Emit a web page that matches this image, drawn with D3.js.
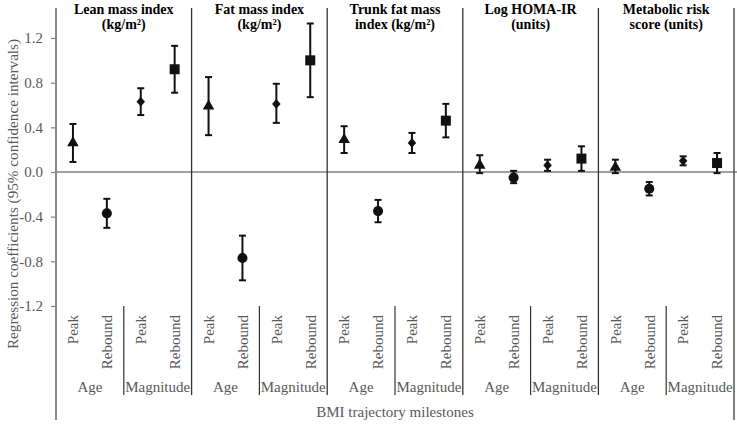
<!DOCTYPE html>
<html>
<head>
<meta charset="utf-8">
<script src="https://cdn.jsdelivr.net/npm/d3@7"></script>
<style>
  html, body { margin: 0; padding: 0; background: #fff; }
  svg { display: block; }
</style>
</head>
<body>
<svg id="chart" width="737" height="425"></svg>
<script>
// ---- Data ----
const panelTitles = [
  ["Lean mass index", "(kg/m²)"],
  ["Fat mass index", "(kg/m²)"],
  ["Trunk fat mass", "index (kg/m²)"],
  ["Log HOMA-IR", "(units)"],
  ["Metabolic risk", "score (units)"]
];
const milestones = ["Peak", "Rebound", "Peak", "Rebound"];
const groups = ["Age", "Magnitude"];
const shapes = ["triangle", "circle", "diamond", "square"];
// order per panel: Age-Peak, Age-Rebound, Magnitude-Peak, Magnitude-Rebound
const estimates = [
  [0.26, -0.37, 0.63, 0.92],
  [0.59, -0.77, 0.61, 1.00],
  [0.29, -0.35, 0.26, 0.46],
  [0.06, -0.05, 0.06, 0.12],
  [0.04, -0.15, 0.10, 0.08]
];
const lowerCI = [
  [0.09, -0.50, 0.51, 0.71],
  [0.33, -0.97, 0.44, 0.67],
  [0.17, -0.45, 0.17, 0.31],
  [-0.01, -0.10, 0.01, 0.01],
  [-0.01, -0.21, 0.06, -0.01]
];
const upperCI = [
  [0.43, -0.24, 0.75, 1.13],
  [0.85, -0.57, 0.79, 1.33],
  [0.41, -0.25, 0.35, 0.61],
  [0.15, 0.01, 0.11, 0.23],
  [0.11, -0.09, 0.14, 0.17]
];
const yTicks = [-1.2, -0.8, -0.4, 0.0, 0.4, 0.8, 1.2];
const yTitle = "Regression coefficients (95% confidence intervals)";
const xTitle = "BMI trajectory milestones";

// ---- Layout ----
const FONT = "'Liberation Serif', 'Times New Roman', serif";
const svg = d3.select("#chart");
const left = 56, right = 734;
const yTopLine = 8, yBottomLine = 420, catTop = 306, catBottom = 395;

const xPanel = d3.scaleBand().domain(d3.range(panelTitles.length)).range([left, right]).padding(0);
const xInner = d3.scaleBand().domain(d3.range(milestones.length)).range([0, xPanel.bandwidth()]).padding(0);
const xGroup = d3.scaleBand().domain(d3.range(groups.length)).range([0, xPanel.bandwidth()]).padding(0);
const y = d3.scaleLinear().domain([-1.2, 1.2]).range([306, 38]);

const symbolType = {
  triangle: d3.symbolTriangle,
  circle: d3.symbolCircle,
  diamond: d3.symbolDiamond2,
  square: d3.symbolSquare
};
const symbolSize = { triangle: 58, circle: 80, diamond: 46, square: 100 };

function txt(sel, size, fill, weight) {
  return sel.style("font-family", FONT).style("font-size", size + "px")
    .style("font-weight", weight || "normal").attr("fill", fill);
}

// zero line
svg.append("line")
  .attr("x1", left).attr("x2", 737)
  .attr("y1", y(0)).attr("y2", y(0))
  .attr("stroke", "#808080").attr("stroke-width", 1.5);

// y axis
const yAxis = d3.axisLeft(y).tickValues(yTicks).tickSize(5).tickPadding(8)
  .tickFormat(d => d.toFixed(1));
const gy = svg.append("g").attr("transform", `translate(${left},0)`).call(yAxis);
gy.select(".domain").remove();
gy.selectAll(".tick line").attr("stroke", "#808080").attr("stroke-width", 1.2);
txt(gy.selectAll(".tick text"), 15, "#595959");
svg.append("line")
  .attr("x1", left).attr("x2", left).attr("y1", yTopLine).attr("y2", yBottomLine)
  .attr("stroke", "#8a8a8a").attr("stroke-width", 2);

// right frame
svg.append("line")
  .attr("x1", right).attr("x2", right).attr("y1", yTopLine).attr("y2", yBottomLine)
  .attr("stroke", "#555").attr("stroke-width", 1.5);

// panel separators
d3.range(1, panelTitles.length).forEach(i => {
  svg.append("line")
    .attr("x1", xPanel(i)).attr("x2", xPanel(i))
    .attr("y1", yTopLine).attr("y2", catBottom)
    .attr("stroke", "#333").attr("stroke-width", 1.3);
});

// panels
panelTitles.forEach((title, p) => {
  const g = svg.append("g").attr("transform", `translate(${xPanel(p)},0)`);
  const cx = xPanel.bandwidth() / 2;
  txt(g.append("text").attr("x", cx).attr("y", 13.5).attr("text-anchor", "middle"), 14, "#000", "bold").text(title[0]);
  txt(g.append("text").attr("x", cx).attr("y", 29).attr("text-anchor", "middle"), 14, "#000", "bold").text(title[1]);

  // group separator
  g.append("line")
    .attr("x1", xGroup(1)).attr("x2", xGroup(1))
    .attr("y1", catTop).attr("y2", catBottom)
    .attr("stroke", "#333").attr("stroke-width", 1.2);

  // milestone labels
  milestones.forEach((m, i) => {
    const mx = xInner(i) + xInner.bandwidth() / 2;
    txt(g.append("text")
      .attr("transform", `translate(${mx},315) rotate(-90)`)
      .attr("text-anchor", "end").attr("dy", "0.35em"), 15, "#595959").text(m);
  });
  groups.forEach((gr, i) => {
    txt(g.append("text")
      .attr("x", xGroup(i) + xGroup.bandwidth() / 2).attr("y", 392)
      .attr("text-anchor", "middle"), 15, "#595959").text(gr);
  });

  // error bars & markers
  estimates[p].forEach((v, i) => {
    const mx = xInner(i) + xInner.bandwidth() / 2;
    const lo = lowerCI[p][i], hi = upperCI[p][i];
    g.append("line").attr("x1", mx).attr("x2", mx).attr("y1", y(lo)).attr("y2", y(hi))
      .attr("stroke", "#111").attr("stroke-width", 2);
    [lo, hi].forEach(c => {
      g.append("line").attr("x1", mx - 3.5).attr("x2", mx + 3.5).attr("y1", y(c)).attr("y2", y(c))
        .attr("stroke", "#111").attr("stroke-width", 2);
    });
    const s = shapes[i];
    g.append("path")
      .attr("d", d3.symbol().type(symbolType[s]).size(symbolSize[s])())
      .attr("transform", `translate(${mx},${y(v)})` + (s === "diamond" ? " scale(1,1.15)" : ""))
      .attr("fill", "#111");
  });
});

// axis titles
txt(svg.append("text")
  .attr("transform", `translate(13,194) rotate(-90)`)
  .attr("text-anchor", "middle").attr("dy", "0.35em"), 15.2, "#595959").text(yTitle);
txt(svg.append("text")
  .attr("x", (left + right) / 2).attr("y", 417)
  .attr("text-anchor", "middle"), 15, "#595959").text(xTitle);
</script>
</body>
</html>
